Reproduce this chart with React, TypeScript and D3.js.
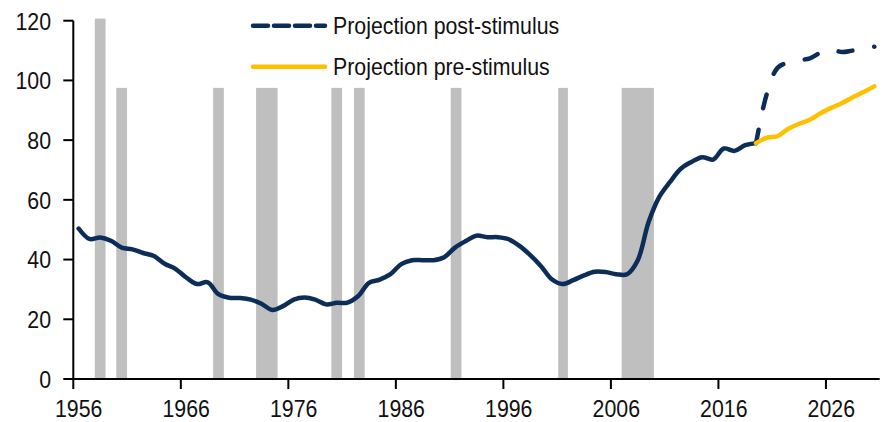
import React, { useEffect, useRef } from 'react';
import * as d3 from 'd3';

const histYears = d3.range(1956, 2020);
const histValues = [
  50.4, 46.9, 47.4, 46.3, 44.0, 43.4, 42.2, 41.2, 38.6, 36.9,
  34.0, 31.8, 32.4, 28.4, 27.2, 27.1, 26.6, 25.2, 23.1, 24.4,
  26.6, 27.3, 26.6, 25.0, 25.5, 25.6, 27.8, 32.2, 33.3, 35.1,
  38.5, 39.8, 39.8, 39.8, 40.8, 44.0, 46.2, 48.0, 47.5, 47.5,
  46.8, 44.6, 41.5, 37.8, 33.4, 31.8, 33.1, 34.7, 35.9, 35.8,
  35.1, 35.1, 39.8, 52.5, 61.0, 66.0, 70.4, 72.7, 74.3, 73.5,
  77.2, 76.4, 78.3, 79.0,
];

const projYears = d3.range(2019, 2031);
const postStimulus = [79.0, 95.5, 104.2, 106.0, 106.8, 107.4, 109.3, 110.3, 109.5, 110.0, 110.4, 111.3];
const preStimulus = [79.0, 80.8, 81.3, 83.8, 85.5, 86.8, 89.0, 90.8, 92.4, 94.4, 96.1, 98.0];

// recession shading: start, end (year units), top value
const recStart = [1958, 1960, 1969, 1973, 1980, 1982.1, 1991.1, 2001.1, 2007];
const recEnd = [1959, 1961, 1970, 1975, 1981, 1983.1, 1992.1, 2002, 2010];
const recTop = [120.7, 97.5, 97.5, 97.5, 97.5, 97.5, 97.5, 97.5, 97.5];

const xTicks = [1956, 1966, 1976, 1986, 1996, 2006, 2016, 2026];
const yTicks = [0, 20, 40, 60, 80, 100, 120];

const legendLabels = ['Projection post-stimulus', 'Projection pre-stimulus'];

const NAVY = '#0c2d57';
const GOLD = '#ffc000';
const GREY = '#bfbfbf';
const FONT = '"Liberation Sans", Arial, sans-serif';
const SQUEEZE = 0.87; // no narrow face installed, so condense by hand

export default function App() {
  const svgRef = useRef<SVGSVGElement>(null);

  useEffect(() => {
    if (!svgRef.current) return;
    const svg = d3.select(svgRef.current);
    svg.selectAll('*').remove();

    const x = d3.scaleLinear().domain([1956, 2031]).range([73.3, 879.7]);
    const y = d3.scaleLinear().domain([0, 120]).range([379, 20.7]);

    const label = (g: d3.Selection<SVGGElement, unknown, null, undefined>, tx: number, ty: number, txt: string, anchor: string) =>
      g.append('text')
        .attr('transform', `translate(${tx},${ty}) scale(${SQUEEZE},1)`)
        .attr('text-anchor', anchor)
        .attr('font-family', FONT)
        .attr('font-size', 24.5)
        .attr('fill', '#111')
        .text(txt);

    // recessions
    svg.append('g')
      .selectAll('rect')
      .data(recStart)
      .join('rect')
      .attr('x', (d) => x(d))
      .attr('width', (d, i) => x(recEnd[i]) - x(d))
      .attr('y', (d, i) => y(recTop[i]))
      .attr('height', (d, i) => y(0) - y(recTop[i]))
      .attr('fill', GREY);

    const line = d3.line<[number, number]>()
      .x((d) => x(d[0] + 0.5))
      .y((d) => y(d[1]))
      .curve(d3.curveCatmullRom.alpha(0.5));

    const hist = histYears.map((yr, i) => [yr, histValues[i]] as [number, number]);
    const post = projYears.map((yr, i) => [yr, postStimulus[i]] as [number, number]);
    const pre = projYears.map((yr, i) => [yr, preStimulus[i]] as [number, number]);

    svg.append('path')
      .datum(hist)
      .attr('fill', 'none')
      .attr('stroke', NAVY)
      .attr('stroke-width', 4.5)
      .attr('stroke-linejoin', 'round')
      .attr('stroke-linecap', 'round')
      .attr('d', line);

    const dashed = svg.append('path')
      .datum(post)
      .attr('fill', 'none')
      .attr('stroke', NAVY)
      .attr('stroke-width', 4.5)
      .attr('stroke-linecap', 'round')
      .attr('d', line);
    // line the dash pattern up so the series ends on a dot, as in the source
    const len = (dashed.node() as SVGPathElement).getTotalLength();
    const period = 36;
    dashed
      .attr('stroke-dasharray', '14,22')
      .attr('stroke-dashoffset', -((len % period) - 0.5 - 0) + period);

    svg.append('path')
      .datum(pre)
      .attr('fill', 'none')
      .attr('stroke', GOLD)
      .attr('stroke-width', 4.5)
      .attr('stroke-linejoin', 'round')
      .attr('stroke-linecap', 'round')
      .attr('d', line);

    // axes
    const axisG = svg.append('g');
    axisG.append('line')
      .attr('x1', x(1956)).attr('x2', x(1956))
      .attr('y1', y(120)).attr('y2', y(0))
      .attr('stroke', '#000').attr('stroke-width', 2);
    axisG.append('line')
      .attr('x1', x(1956) - 1).attr('x2', x(2031))
      .attr('y1', y(0)).attr('y2', y(0))
      .attr('stroke', '#000').attr('stroke-width', 2);

    yTicks.forEach((t) => {
      axisG.append('line')
        .attr('x1', x(1956) - 10).attr('x2', x(1956))
        .attr('y1', y(t)).attr('y2', y(t))
        .attr('stroke', '#000').attr('stroke-width', 2);
      label(axisG, 51, y(t) + 8.8, String(t), 'end');
    });

    xTicks.forEach((t) => {
      axisG.append('line')
        .attr('x1', x(t)).attr('x2', x(t))
        .attr('y1', y(0)).attr('y2', y(0) + 10)
        .attr('stroke', '#000').attr('stroke-width', 2);
      label(axisG, x(t + 0.5), 417, String(t), 'middle');
    });

    // legend
    const leg = svg.append('g');
    const legY = [25.7, 66.7];
    leg.append('line')
      .attr('x1', 253).attr('x2', 325)
      .attr('y1', legY[0]).attr('y2', legY[0])
      .attr('stroke', NAVY).attr('stroke-width', 4.5)
      .attr('stroke-linecap', 'round')
      .attr('stroke-dasharray', '15,6');
    leg.append('line')
      .attr('x1', 253).attr('x2', 325)
      .attr('y1', legY[1]).attr('y2', legY[1])
      .attr('stroke', GOLD).attr('stroke-width', 4.5)
      .attr('stroke-linecap', 'round');
    legendLabels.forEach((lab, i) => {
      label(leg, 333, legY[i] + 8.6, lab, 'start');
    });
  }, []);

  return (
    <svg
      ref={svgRef}
      width={888}
      height={422}
      style={{ position: 'absolute', left: 0, top: 0, background: '#fff' }}
    />
  );
}
